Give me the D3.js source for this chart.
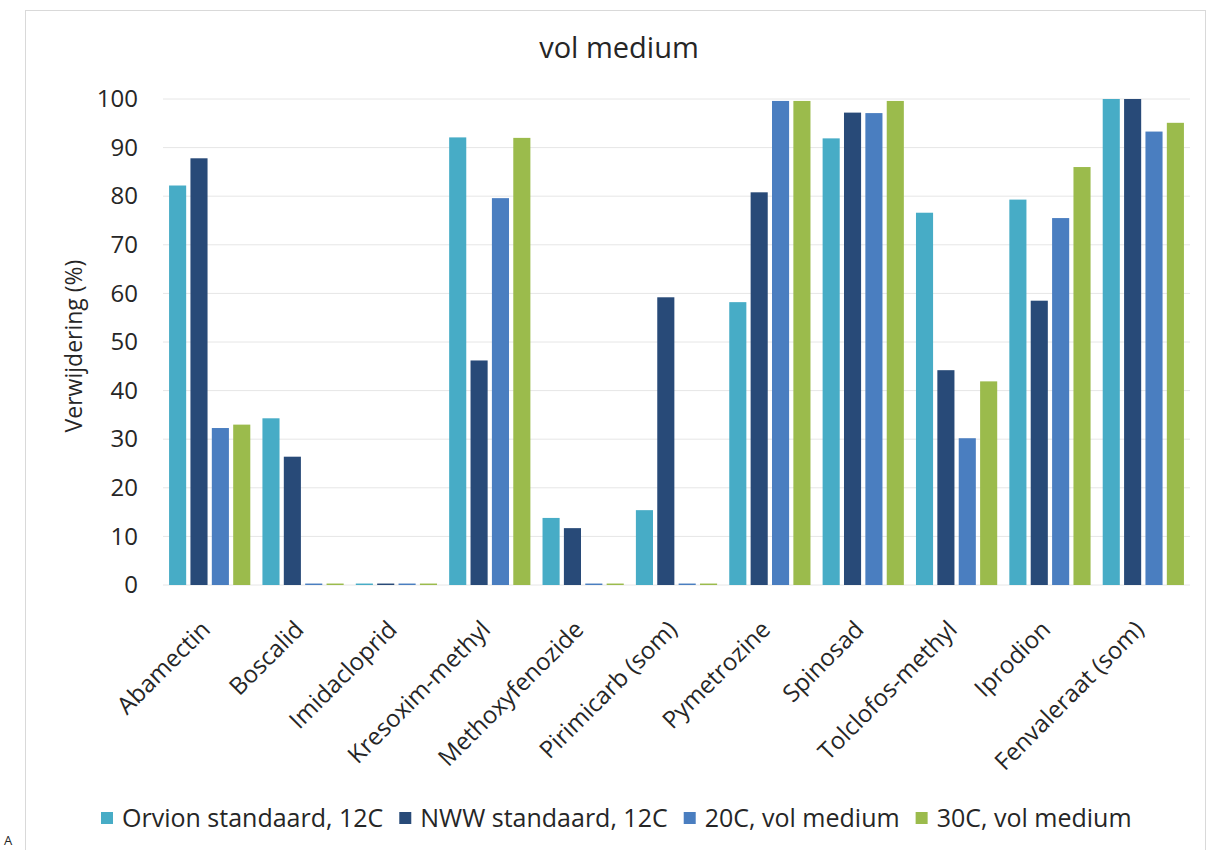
<!DOCTYPE html>
<html>
<head>
<meta charset="utf-8">
<script src="https://cdn.jsdelivr.net/npm/d3@7"></script>
<style>
  body { margin: 0; background: #fff; }
  text { font-family: "Open Sans", "Noto Sans", sans-serif; fill: #262626; }
</style>
</head>
<body>
<div id="chart"></div>
<script>
const categories = ['Abamectin', 'Boscalid', 'Imidacloprid', 'Kresoxim-methyl', 'Methoxyfenozide',
    'Pirimicarb (som)', 'Pymetrozine', 'Spinosad', 'Tolclofos-methyl', 'Iprodion', 'Fenvaleraat (som)']
const seriesNames = ['Orvion standaard, 12C', 'NWW standaard, 12C', '20C, vol medium', '30C, vol medium']
const seriesColors = ['#47acc6', '#284a78', '#4a7ec0', '#9bbb4c']
const orvion = [82.2, 34.3, 0.3, 92.1, 13.8, 15.4, 58.2, 91.9, 76.6, 79.3, 100]
const nww = [87.8, 26.4, 0.3, 46.2, 11.7, 59.2, 80.8, 97.2, 44.2, 58.5, 100]
const c20 = [32.3, 0.3, 0.3, 79.6, 0.3, 0.3, 99.6, 97.1, 30.2, 75.5, 93.3]
const c30 = [33.0, 0.3, 0.3, 92.0, 0.3, 0.3, 99.6, 99.6, 41.9, 86.0, 95.1]
const yTicks = [0, 10, 20, 30, 40, 50, 60, 70, 80, 90, 100]

const width = 1210, height = 850
const margin = { top: 99, right: 20, bottom: 265, left: 163 }
const plotW = 1190 - margin.left
const plotH = 585 - margin.top

const svg = d3.select('#chart').append('svg')
    .attr('width', width)
    .attr('height', height)

// outer chart frame
svg.append('rect')
    .attr('x', 25.5).attr('y', 10.5)
    .attr('width', 1180).attr('height', 850)
    .attr('fill', 'none')
    .attr('stroke', '#d9d9d9')

svg.append('text')
    .attr('x', 4).attr('y', 845)
    .attr('font-size', 13)
    .text('A')

svg.append('text')
    .attr('x', 619).attr('y', 58)
    .attr('text-anchor', 'middle')
    .attr('font-size', 29)
    .text('vol medium')

const plot = svg.append('g')
    .attr('transform', `translate(${margin.left},${margin.top})`)

const x0 = d3.scaleBand()
    .domain(categories)
    .range([0, plotW])
    .paddingInner(0.13)
    .paddingOuter(0.065)

const x1 = d3.scaleBand()
    .domain(seriesNames)
    .range([0, x0.bandwidth()])
    .paddingInner(0.2)

const y = d3.scaleLinear()
    .domain([0, 100])
    .range([plotH, 0])

// gridlines
plot.append('g')
    .selectAll('line')
    .data(yTicks)
    .join('line')
    .attr('x1', 0).attr('x2', plotW)
    .attr('y1', d => y(d)).attr('y2', d => y(d))
    .attr('stroke', '#e6e6e6')
    .attr('stroke-width', 1)

const yAxis = plot.append('g')
    .call(d3.axisLeft(y).tickValues(yTicks).tickSize(0).tickPadding(25))
yAxis.select('.domain').remove()
yAxis.selectAll('text')
    .attr('font-size', 24)
    .attr('fill', '#262626')
    .style('font-family', '"Open Sans", sans-serif')

const table = categories.map((c, i) => ({
    cat: c,
    vals: [orvion[i], nww[i], c20[i], c30[i]]
}))

const groups = plot.selectAll('g.grp')
    .data(table)
    .join('g')
    .attr('class', 'grp')
    .attr('transform', d => `translate(${x0(d.cat)},0)`)

groups.selectAll('rect')
    .data(d => d.vals.map((v, j) => ({ name: seriesNames[j], v: v, color: seriesColors[j] })))
    .join('rect')
    .attr('x', d => x1(d.name))
    .attr('width', x1.bandwidth())
    .attr('y', d => y(d.v))
    .attr('height', d => y(0) - y(d.v))
    .attr('fill', d => d.color)

const xAxis = plot.append('g')
    .attr('transform', `translate(0,${plotH})`)
    .call(d3.axisBottom(x0).tickSize(0).tickPadding(0))
xAxis.select('.domain').remove()
xAxis.selectAll('text')
    .attr('font-size', 24)
    .attr('fill', '#262626')
    .style('font-family', '"Open Sans", sans-serif')
    .attr('text-anchor', 'end')
    .attr('dy', '0')
    .attr('transform', 'translate(2,46) rotate(-45)')

svg.append('text')
    .attr('transform', 'translate(82,346) rotate(-90)')
    .attr('text-anchor', 'middle')
    .attr('font-size', 23)
    .text('Verwijdering (%)')

// legend
const legend = svg.append('g')
    .attr('transform', 'translate(101,827)')
let lx = 0
seriesNames.forEach((name, i) => {
    const item = legend.append('g').attr('transform', `translate(${lx},0)`)
    item.append('rect')
        .attr('x', 0).attr('y', -15)
        .attr('width', 12).attr('height', 12)
        .attr('fill', seriesColors[i])
    const t = item.append('text')
        .attr('x', 21).attr('y', 0)
        .attr('font-size', 25)
        .text(name)
    lx += 21 + t.node().getComputedTextLength() + 16
})
</script>
</body>
</html>
